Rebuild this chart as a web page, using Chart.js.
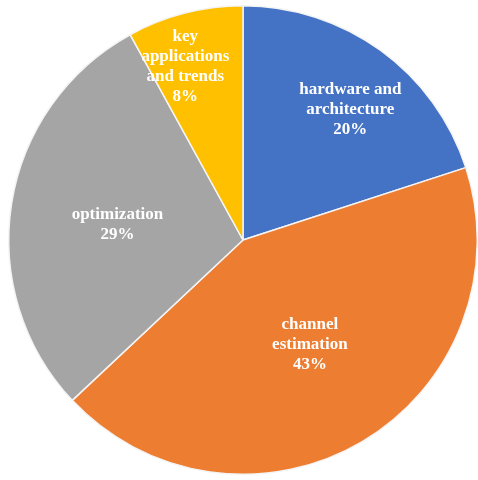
<!DOCTYPE html>
<html>
<head>
<meta charset="utf-8">
<script src="https://cdn.jsdelivr.net/npm/chart.js@4"></script>
<style>
  html, body { margin: 0; padding: 0; background: #fff; }
  #wrap { width: 478px; height: 480px; }
</style>
</head>
<body>
<div id="wrap"><canvas id="topicsPie" width="478" height="480"></canvas></div>
<script>
// slice data, clockwise from 12 o'clock
var categories = ['hardware and architecture', 'channel estimation', 'optimization', 'key applications and trends'];
var shares = [20, 43, 29, 8];
var labelLines = [
    ['hardware and', 'architecture'],
    ['channel', 'estimation'],
    ['optimization'],
    ['key', 'applications', 'and trends']
];
var sliceColors = ['#4472C4', '#ED7D31', '#A5A5A5', '#FFC000'];

// label placement: fraction of radius, and small angle nudge (degrees)
var labelRadius = [0.72, 0.53, 0.54, 0.78];
var labelNudge = [3.5, -2, -2, -4];

var sliceLabels = {
    id: 'sliceLabels',
    afterDatasetsDraw: function (chart) {
        var ctx = chart.ctx;
        var meta = chart.getDatasetMeta(0);
        ctx.save();
        ctx.fillStyle = '#ffffff';
        ctx.font = 'bold 17px "Liberation Serif", "Times New Roman", serif';
        ctx.textAlign = 'center';
        ctx.textBaseline = 'middle';
        meta.data.forEach(function (arc, i) {
            var p = arc.getProps(['x', 'y', 'startAngle', 'endAngle', 'outerRadius']);
            var mid = (p.startAngle + p.endAngle) / 2 + labelNudge[i] * Math.PI / 180;
            var r = p.outerRadius * labelRadius[i];
            var cx = p.x + Math.cos(mid) * r;
            var cy = p.y + Math.sin(mid) * r;
            var lines = labelLines[i].concat([shares[i] + '%']);
            var lh = 20;
            var top = cy - (lines.length - 1) * lh / 2;
            lines.forEach(function (t, k) {
                ctx.fillText(t, cx, top + k * lh);
            });
        });
        ctx.restore();
    }
};

new Chart(document.getElementById('topicsPie').getContext('2d'), {
    type: 'pie',
    data: {
        labels: categories,
        datasets: [{
            data: shares,
            backgroundColor: sliceColors,
            borderColor: '#f4f4f4',
            borderWidth: 1.5
        }]
    },
    options: {
        responsive: false,
        animation: false,
        layout: { padding: { top: 4, bottom: 4, left: 8, right: 0 } },
        plugins: {
            legend: { display: false },
            tooltip: { enabled: false }
        }
    },
    plugins: [sliceLabels]
});
</script>
</body>
</html>
